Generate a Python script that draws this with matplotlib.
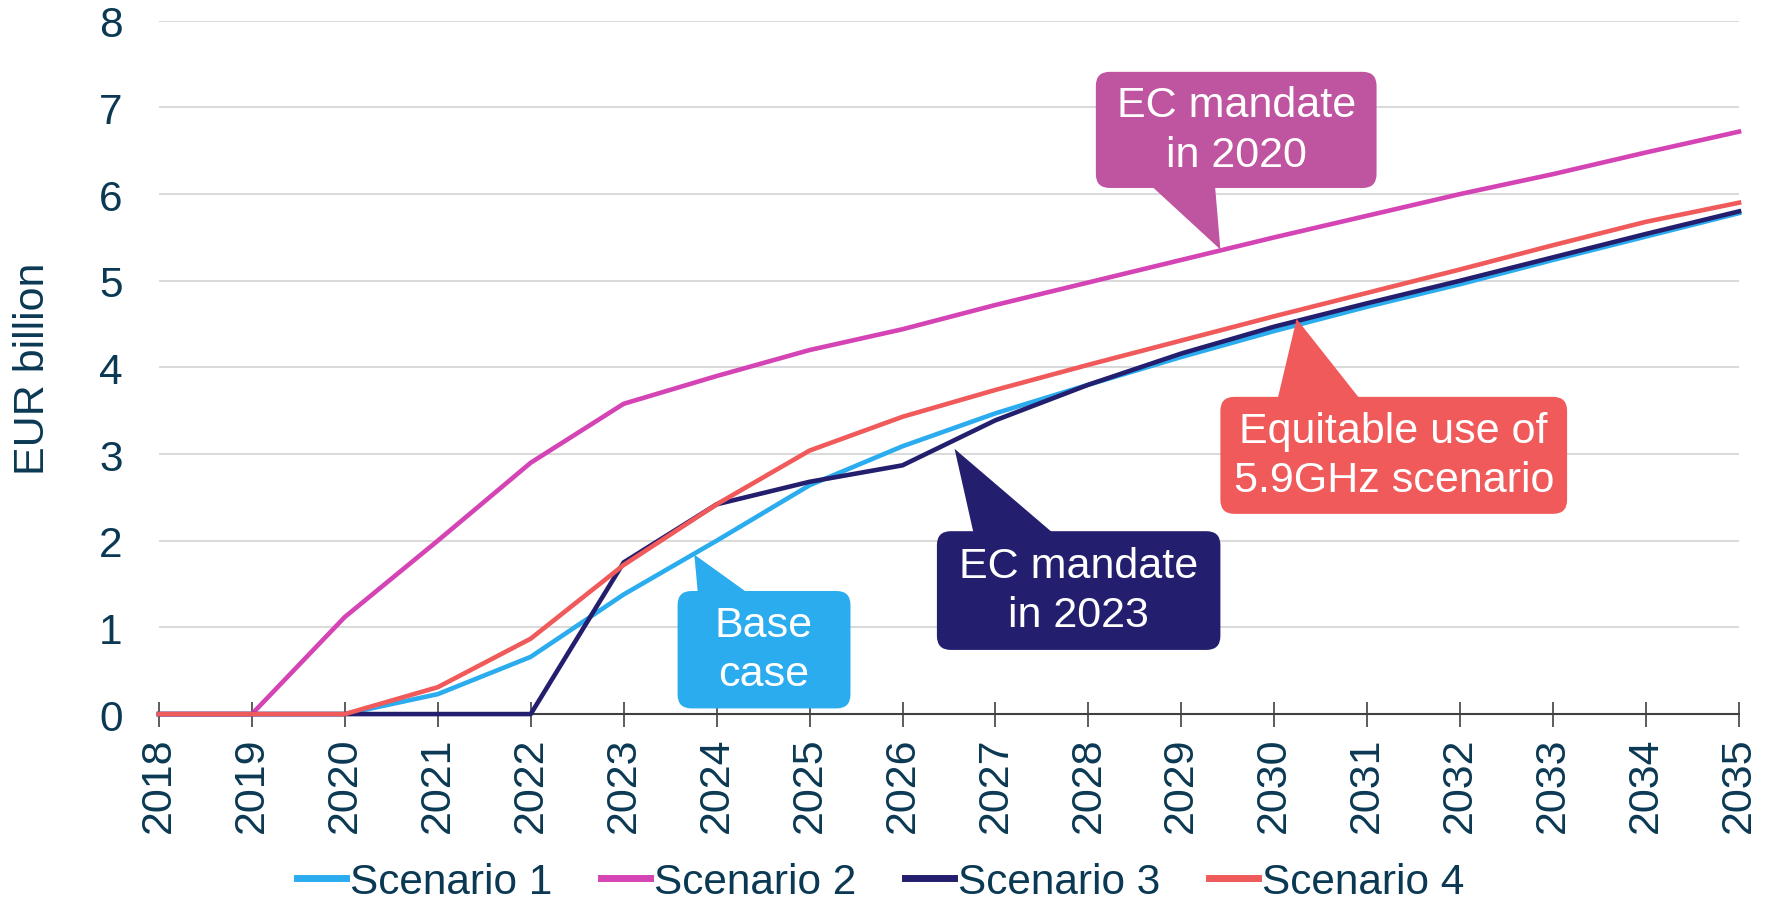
import matplotlib.pyplot as plt
from matplotlib.patches import FancyBboxPatch, Polygon

plt.rcParams['font.family'] = ['Liberation Sans', 'DejaVu Sans']

years = list(range(2018, 2036))
scenario_1 = [0, 0, 0, 0.23, 0.66, 1.38, 2.0, 2.64, 3.09, 3.47, 3.8, 4.12, 4.42, 4.7, 4.96, 5.24, 5.51, 5.78]
scenario_2 = [0, 0, 1.12, 2.0, 2.9, 3.58, 3.9, 4.2, 4.44, 4.72, 4.98, 5.24, 5.5, 5.75, 6.0, 6.23, 6.48, 6.72]
scenario_3 = [0, 0, 0, 0, 0, 1.75, 2.42, 2.68, 2.87, 3.39, 3.8, 4.16, 4.47, 4.74, 5.0, 5.27, 5.54, 5.8]
scenario_4 = [0, 0, 0, 0.31, 0.87, 1.72, 2.42, 3.04, 3.43, 3.74, 4.03, 4.31, 4.59, 4.86, 5.13, 5.41, 5.68, 5.9]
series_names = ['Scenario 1', 'Scenario 2', 'Scenario 3', 'Scenario 4']

colors = ['#2BACEF', '#D444B4', '#231F6E', '#F05A5A']
text_color = '#0B3954'

# callouts: text, box (x0, x1, y0, y1), pointer base x range, pointer tip, colour
callouts = [
    ('EC mandate\nin 2020', (2028.08, 2031.10, 6.07, 7.41), (2028.65, 2029.36), (2029.42, 5.36), '#BF55A0'),
    ('Base\ncase', (2023.58, 2025.44, 0.065, 1.42), (2023.80, 2024.37), (2023.76, 1.84), '#2BACEF'),
    ('EC mandate\nin 2023', (2026.37, 2029.42, 0.74, 2.11), (2026.77, 2027.65), (2026.56, 3.06), '#231F6E'),
    ('Equitable use of\n5.9GHz scenario', (2029.42, 2033.15, 2.31, 3.66), (2030.03, 2030.94), (2030.24, 4.56), '#F05A5A'),
]

fig = plt.figure(figsize=(17.72, 9.04), dpi=100)
ax = fig.add_axes([0.0897, 0.209, 0.8917, 0.767])

all_series = [scenario_1, scenario_2, scenario_3, scenario_4]
for values, name, c in zip(all_series, series_names, colors):
    ax.plot(years, values, color=c, linewidth=3.3, label=name, clip_on=False, zorder=3)

ax.set_xlim(2018, 2035)
ax.set_ylim(0, 8)
ax.set_xticks(years)
ax.set_xticklabels([str(y) for y in years], rotation=90, fontsize=31, color=text_color)
ax.set_yticks(range(0, 9))
ax.set_yticklabels([str(v) for v in range(0, 9)], fontsize=30.5, color=text_color)
ax.tick_params(axis='y', length=0, pad=26)
ax.tick_params(axis='x', direction='inout', length=18, width=1.1, color='#303030', pad=7)
ax.set_ylabel('EUR billion', fontsize=31, color=text_color)
ax.yaxis.set_label_coords(-0.067, 0.5)

ax.grid(axis='y', color='#D9D9D9', linewidth=1.4)
ax.set_axisbelow(True)
for side in ['top', 'right', 'left']:
    ax.spines[side].set_visible(False)
ax.spines['bottom'].set_color('#404040')
ax.spines['bottom'].set_linewidth(1.5)
ax.spines['bottom'].set_zorder(2)

# Callout boxes
for text, (x0, x1, y0, y1), (bx0, bx1), tip, c in callouts:
    box = FancyBboxPatch((x0, y0), x1 - x0, y1 - y0,
                         boxstyle='round,pad=0,rounding_size=0.15',
                         mutation_aspect=1.072, facecolor=c, edgecolor='none',
                         zorder=5, clip_on=False)
    ax.add_patch(box)
    edge_y = y1 - 0.05 if tip[1] > y1 else y0 + 0.05
    ax.add_patch(Polygon([(bx0, edge_y), (bx1, edge_y), tip], closed=True,
                         facecolor=c, edgecolor='none', zorder=5, clip_on=False))
    ax.text((x0 + x1) / 2, (y0 + y1) / 2, text, color='white', fontsize=31,
            ha='center', va='center', linespacing=1.3, zorder=6)

leg = fig.legend(loc='center', bbox_to_anchor=(0.497, 0.023), ncol=4, frameon=False,
                 fontsize=30.5, handlelength=1.15, handletextpad=0.1, columnspacing=1.15)
for t in leg.get_texts():
    t.set_color(text_color)
for line in leg.get_lines():
    line.set_linewidth(5)

plt.savefig('out.png', dpi=100)
